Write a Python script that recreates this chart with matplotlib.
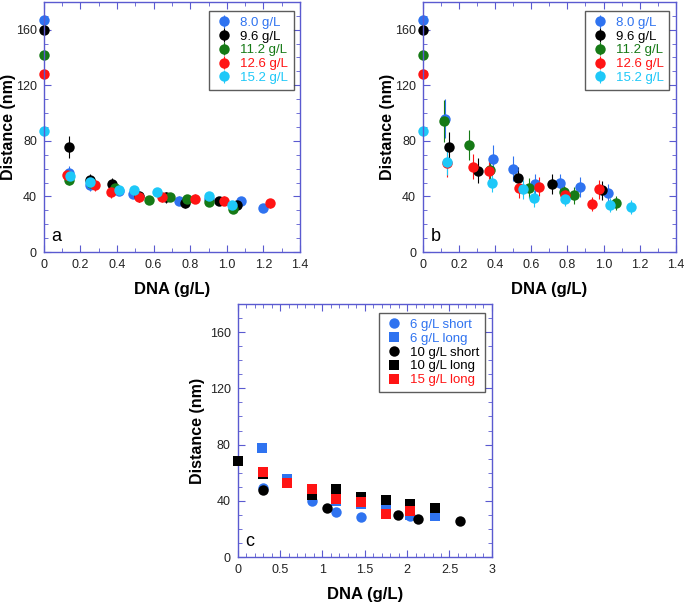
"""
Distance vs DNA concentration, three panels (a, b, c).
"""
import matplotlib
import matplotlib.pyplot as plt
from matplotlib.ticker import MultipleLocator

matplotlib.use('Agg')

plt.rcParams['font.family'] = ['Liberation Sans', 'DejaVu Sans']

SPINE = '#5a5ad0'
COLORS = {
    'blue': '#2f73f0',
    'black': '#000000',
    'green': '#167a16',
    'red': '#ff1414',
    'cyan': '#1ec8f8',
}

# ---- panel a ----
a_labels = ['8.0 g/L', '9.6 g/L', '11.2 g/L', '12.6 g/L', '15.2 g/L']
a_x_80 = [0, 0.14, 0.25, 0.41, 0.485, 0.74, 0.90, 1.077, 1.20]
a_y_80 = [167, 57, 48, 44, 42, 37, 38, 36.6, 32]
a_e_80 = [0, 5, 4, 3, 3, 3, 3, 3, 2]
a_x_96 = [0, 0.135, 0.25, 0.375, 0.52, 0.667, 0.772, 0.958, 1.053]
a_y_96 = [160, 75.6, 52, 49, 40, 39.3, 35, 36.6, 34]
a_e_96 = [0, 8, 4, 4, 4, 4, 3, 3, 3]
a_x_112 = [0, 0.135, 0.26, 0.39, 0.572, 0.689, 0.785, 0.90, 1.035]
a_y_112 = [142, 52, 50, 46, 37.6, 39.7, 38, 36, 31]
a_e_112 = [0, 4, 4, 3, 3, 3, 3, 3, 2]
a_x_126 = [0, 0.126, 0.28, 0.366, 0.521, 0.645, 0.826, 0.982, 1.238]
a_y_126 = [128, 55.5, 48, 43, 39.3, 39.3, 38.5, 37, 35]
a_e_126 = [0, 4, 4, 4, 3, 3, 3, 3, 3]
a_x_152 = [0, 0.142, 0.25, 0.408, 0.494, 0.621, 0.90, 1.03]
a_y_152 = [87, 55, 50.5, 44.6, 44.8, 43, 40, 33.7]
a_e_152 = [0, 4, 3, 3, 3, 3, 3, 2]

# ---- panel b ----
b_x_80 = [0, 0.122, 0.387, 0.496, 0.622, 0.757, 0.869, 1.024]
b_y_80 = [167, 96, 67, 60, 49, 49.5, 46.7, 42.6]
b_e_80 = [0, 14, 10, 9, 7, 7, 7, 6]
b_x_96 = [0, 0.144, 0.307, 0.526, 0.715, 0.989]
b_y_96 = [160, 75.6, 58.5, 53, 49, 44.3]
b_e_96 = [0, 11, 9, 8, 7, 7]
b_x_112 = [0, 0.118, 0.257, 0.37, 0.589, 0.783, 0.835, 1.07]
b_y_112 = [142, 94.3, 77, 59, 46, 43, 40.7, 35]
b_e_112 = [0, 15, 11, 8, 7, 6, 6, 5]
b_x_126 = [0, 0.131, 0.276, 0.363, 0.533, 0.641, 0.789, 0.937, 0.974]
b_y_126 = [128, 63.7, 61.4, 58.5, 46, 47, 40.8, 34.4, 45]
b_e_126 = [0, 10, 9, 9, 7, 7, 6, 5, 7]
b_x_152 = [0, 0.131, 0.381, 0.552, 0.613, 0.789, 1.035, 1.154]
b_y_152 = [87, 64.7, 50, 45, 38.6, 38, 34, 32.7]
b_e_152 = [0, 9, 7, 7, 6, 5, 5, 5]

# ---- panel c ----
c_labels = ['6 g/L short', '6 g/L long', '10 g/L short', '10 g/L long', '15 g/L long']
c_x_6s = [0.30, 0.876, 1.165, 1.45, 2.03]
c_y_6s = [49, 39.6, 32, 28.4, 29.6]
c_x_6l = [0.285, 0.58, 0.876, 1.165, 1.45, 1.75, 2.03, 2.33]
c_y_6l = [77.5, 55.7, 47, 40, 38, 36.7, 30, 29]
c_x_10s = [0.30, 1.058, 1.895, 2.13, 2.63]
c_y_10s = [48, 34.8, 30, 26.8, 26]
c_x_10l = [0, 0.30, 0.88, 1.165, 1.45, 1.75, 2.03, 2.33]
c_y_10l = [68, 59, 44.3, 48.6, 43, 40.8, 38, 34.8]
c_x_15l = [0.296, 0.58, 0.876, 1.165, 1.45, 1.75, 2.03]
c_y_15l = [60.4, 52.8, 48.1, 41.5, 39, 30.8, 32.5]


def estilo_eixo(ax, xmax, xmaj, xmin_step, xfmt, ylab_x):
    ax.set_xlim(0, xmax)
    ax.set_ylim(0, 180)
    ax.xaxis.set_major_locator(MultipleLocator(xmaj))
    ax.xaxis.set_minor_locator(MultipleLocator(xmin_step))
    ax.yaxis.set_major_locator(MultipleLocator(40))
    ax.yaxis.set_minor_locator(MultipleLocator(10))
    ax.xaxis.set_major_formatter(xfmt)
    for s in ax.spines.values():
        s.set_color(SPINE)
        s.set_linewidth(1.0)
    ax.tick_params(which='both', direction='in', top=True, right=True,
                   color=SPINE, labelsize=9, labelcolor='#222222')
    ax.tick_params(which='major', length=5, pad=5)
    ax.tick_params(which='minor', length=3)
    ax.set_xlabel('DNA (g/L)', fontsize=12, fontweight='bold', labelpad=8)
    ax.set_ylabel('Distance (nm)', fontsize=11.5, fontweight='bold')
    ax.yaxis.set_label_coords(ylab_x, 0.5)


def estilo_legenda(leg):
    leg.get_frame().set_edgecolor('#333333')
    leg.get_frame().set_linewidth(1.0)
    for txt, h in zip(leg.get_texts(), leg.legend_handles):
        txt.set_color(h.get_color())


def fmt_a(v, pos):
    return '0' if v == 0 else f'{v:.1f}'


def fmt_c(v, pos):
    return f'{v:g}'


LEG_KW = dict(loc='upper right', bbox_to_anchor=(0.975, 0.965), fontsize=9.5,
              frameon=True, fancybox=False, handletextpad=0.5,
              handlelength=1.4, borderpad=0.45, labelspacing=0.12,
              borderaxespad=0.0)

fig = plt.figure(figsize=(6.85, 6.03), dpi=100)
ax_a = fig.add_axes([0.064, 0.582, 0.374, 0.415])
ax_b = fig.add_axes([0.6175, 0.582, 0.369, 0.415])
ax_c = fig.add_axes([0.347, 0.076, 0.371, 0.42])

series_a = [(a_x_80, a_y_80, a_e_80, 'blue'), (a_x_96, a_y_96, a_e_96, 'black'),
            (a_x_112, a_y_112, a_e_112, 'green'), (a_x_126, a_y_126, a_e_126, 'red'),
            (a_x_152, a_y_152, a_e_152, 'cyan')]
series_b = [(b_x_80, b_y_80, b_e_80, 'blue'), (b_x_96, b_y_96, b_e_96, 'black'),
            (b_x_112, b_y_112, b_e_112, 'green'), (b_x_126, b_y_126, b_e_126, 'red'),
            (b_x_152, b_y_152, b_e_152, 'cyan')]

for ax, series, ylx in ((ax_a, series_a, -0.11), (ax_b, series_b, -0.11)):
    for (x, y, e, c), lab in zip(series, a_labels):
        ax.errorbar(x, y, yerr=e, fmt='o', color=COLORS[c], ecolor=COLORS[c],
                    markersize=7.5, markeredgewidth=0, elinewidth=0.8,
                    capsize=2, capthick=0.8, clip_on=False, label=lab)
    estilo_eixo(ax, 1.4, 0.2, 0.1, fmt_a, ylx)
    estilo_legenda(ax.legend(**LEG_KW))

series_c = [(c_x_6s, c_y_6s, 'o', 'blue'), (c_x_6l, c_y_6l, 's', 'blue'),
            (c_x_10s, c_y_10s, 'o', 'black'), (c_x_10l, c_y_10l, 's', 'black'),
            (c_x_15l, c_y_15l, 's', 'red')]
ordem_c = [1, 0, 3, 2, 4]
linhas = {}
for i in ordem_c:
    x, y, m, c = series_c[i]
    linhas[i], = ax_c.plot(x, y, m, color=COLORS[c], markersize=7.5,
                           markeredgewidth=0, clip_on=False, zorder=3 + i)
estilo_eixo(ax_c, 3, 0.5, 0.1, fmt_c, -0.13)
estilo_legenda(ax_c.legend([linhas[i] for i in range(5)], c_labels, **LEG_KW))

for ax, letra in ((ax_a, 'a'), (ax_b, 'b'), (ax_c, 'c')):
    ax.text(0.03, 0.03, letra, transform=ax.transAxes, fontsize=13,
            ha='left', va='bottom')

plt.savefig('out.png', dpi=100, facecolor='white')
plt.close()
